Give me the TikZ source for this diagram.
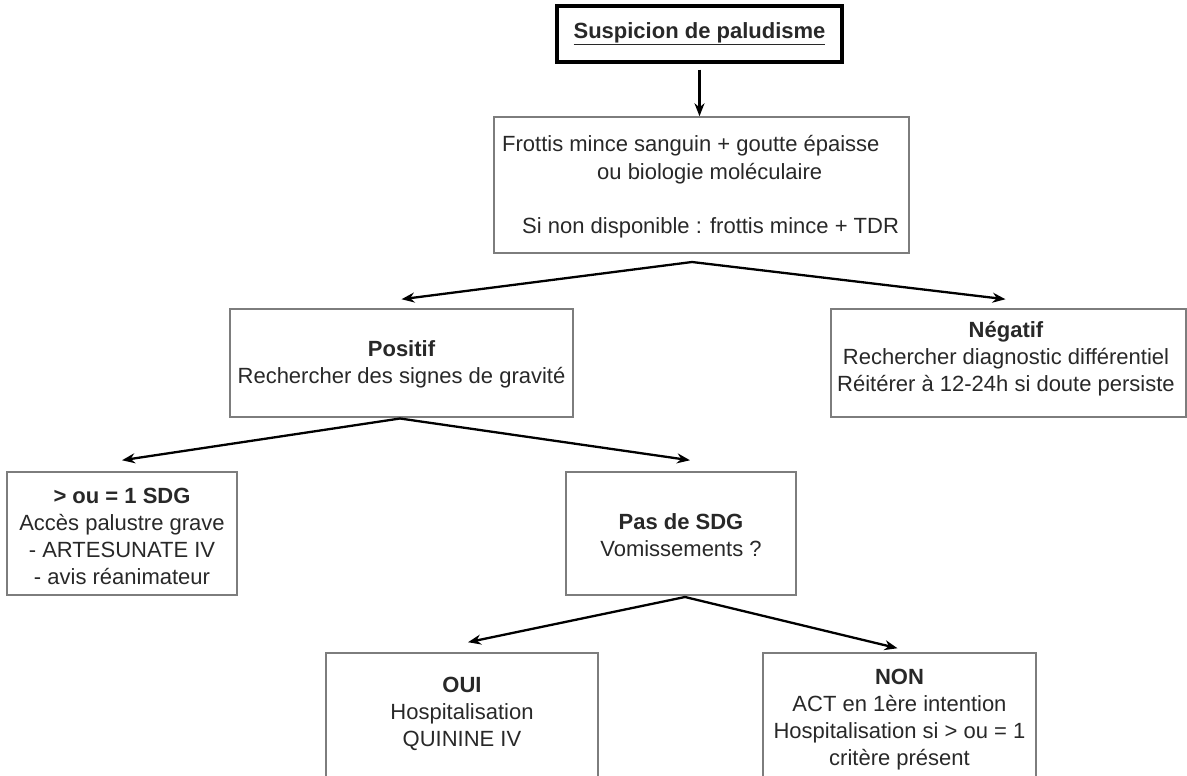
\documentclass[tikz,border=0pt]{standalone}
\usepackage{fontspec}
\setmainfont{Liberation Sans}
\usetikzlibrary{arrows.meta}
\definecolor{txtc}{RGB}{40,40,40}
\definecolor{boxc}{RGB}{125,125,125}
\begin{document}
\begin{tikzpicture}[x=1pt,y=-1pt,
  box/.style={draw=boxc, line width=1.5pt, rectangle, inner sep=0pt},
  topbox/.style={draw=black, line width=3.5pt, rectangle, inner sep=0pt, text=txtc, font=\fontsize{22}{27}\selectfont\bfseries},
  txt/.style={text=txtc, align=center, inner sep=0pt, font=\fontsize{22}{27}\selectfont},
  ltxt/.style={text=txtc, inner sep=0pt, anchor=base west, font=\fontsize{22}{27}\selectfont},
  arr/.style={-{Stealth[length=13pt,width=10pt]}, line width=2.3pt, black, line join=round}]
\useasboundingbox (0,0) rectangle (1187,776);
\clip (0,0) rectangle (1187,776);

% top
\node[topbox, minimum width=285, minimum height=56] (top) at (699.5,34) {\underline{Suspicion de paludisme}};

% frottis box
\node[box, minimum width=415, minimum height=136] (frot) at (701.5,185) {};
\node[ltxt] (f1) at (502,151) {Frottis mince sanguin + goutte épaisse};
\node[ltxt] (f2) at (597,179) {ou biologie moléculaire};
\node[ltxt] (f3) at (522,233) {Si non disponible : frottis mince + TDR};

% positif / negatif
\node[box, minimum width=343, minimum height=108] (pos) at (401.5,363) {};
\node[txt] (post) at (401.5,364) {{\bfseries Positif}\\Rechercher des signes de gravité};
\node[box, minimum width=355, minimum height=108] (neg) at (1008.5,363) {};
\node[txt] (negt) at (1006,359) {{\bfseries Négatif}\\Rechercher diagnostic différentiel\\Réitérer à 12-24h si doute persiste};

% SDG
\node[box, minimum width=230, minimum height=123] (sdg) at (122,533.5) {};
\node[txt] (sdgt) at (122,536) {{\bfseries > ou = 1 SDG}\\Accès palustre grave\\- ARTESUNATE IV\\- avis réanimateur};
\node[box, minimum width=230, minimum height=123] (pas) at (681,533.5) {};
\node[txt] (past) at (681,535) {{\bfseries Pas de SDG}\\Vomissements ?};

% OUI / NON
\node[box, minimum width=272, minimum height=147] (oui) at (462,726.5) {};
\node[txt] (ouit) at (462,714) {{\bfseries OUI}\\Hospitalisation\\QUININE IV};
\node[box, minimum width=273, minimum height=147] (non) at (899.5,726.5) {};
\node[txt] (nont) at (899.5,720) {{\bfseries NON}\\ACT en 1ère intention\\Hospitalisation si > ou = 1\\critère présent};

% connectors
\draw[arr] ([yshift=-6pt]top.south) -- (top.south |- frot.north);

\coordinate (a1) at (692,262);
\draw[arr] (a1) -- ([yshift=9pt]pos.north);
\draw[arr] (a1) -- ([xshift=-3pt,yshift=9pt]neg.north);

\coordinate (a2) at (400,418.5);
\draw[arr] (a2) -- ([yshift=11pt]sdg.north);
\draw[arr] (a2) -- ([xshift=9pt,yshift=11pt]pas.north);

\coordinate (a3) at (685,597);
\draw[arr] (a3) -- ([xshift=6pt,yshift=10pt]oui.north);
\draw[arr] (a3) -- ([xshift=-2pt,yshift=4pt]non.north);
\end{tikzpicture}
\end{document}
